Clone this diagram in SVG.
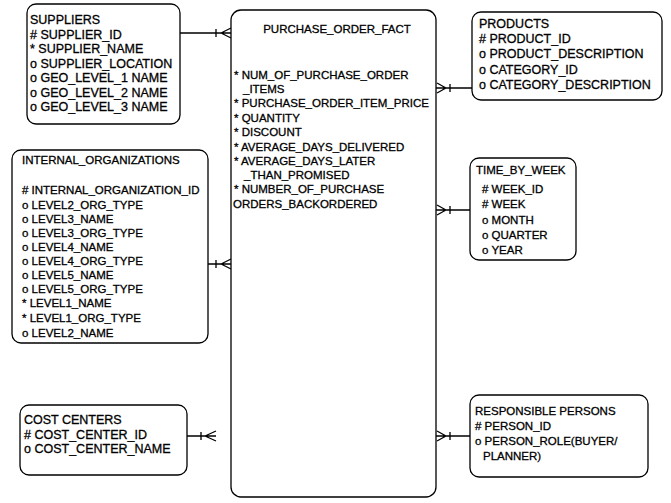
<svg xmlns="http://www.w3.org/2000/svg" width="671" height="503" viewBox="0 0 671 503">
<style>
.box{fill:#fff;stroke:#000;stroke-width:1.3}
text{font-family:"Liberation Sans",Arial,sans-serif;font-size:11.5px;fill:#000;stroke:#000;stroke-width:0.3}
.big text{font-size:12.5px}
.ln{fill:none;stroke:#000;stroke-width:1.3}
</style>
<rect width="671" height="503" fill="#fff"/>
<g id="connectors">
  <path class="ln" d="M180 33H231M216 29V37M221 33L231 28M221 33L231 38"/>
  <path class="ln" d="M208 264H231M216 260V268M221 264L231 259M221 264L231 269"/>
  <path class="ln" d="M187 436H216M201 432V440M205 436L216 431M205 436L216 441"/>
  <path class="ln" d="M436 88H472M446 88L437 83M446 88L437 93M450 84V92"/>
  <path class="ln" d="M436 210H470M446 210L437 205M446 210L437 215M450 206V214"/>
  <path class="ln" d="M436 436H470M446 436L437 431M446 436L437 441M450 432V440"/>
</g>
<g id="suppliers" class="big">
  <rect class="box" x="27" y="4" width="153" height="120" rx="9"/>
  <text x="30" y="24">SUPPLIERS</text>
  <text x="30" y="38.5"># SUPPLIER_ID</text>
  <text x="30" y="53">* SUPPLIER_NAME</text>
  <text x="30" y="67.5">o SUPPLIER_LOCATION</text>
  <text x="30" y="82">o GEO_LEVEL_1 NAME</text>
  <text x="30" y="96.5">o GEO_LEVEL_2 NAME</text>
  <text x="30" y="111">o GEO_LEVEL_3 NAME</text>
</g>
<g id="purchase_order_fact">
  <rect class="box" x="231" y="10" width="205" height="487" rx="10"/>
  <text x="337" y="33" text-anchor="middle">PURCHASE_ORDER_FACT</text>
  <text x="234" y="79">* NUM_OF_PURCHASE_ORDER</text>
  <text x="243" y="93">_ITEMS</text>
  <text x="234" y="107">* PURCHASE_ORDER_ITEM_PRICE</text>
  <text x="234" y="122">* QUANTITY</text>
  <text x="234" y="136">* DISCOUNT</text>
  <text x="234" y="151">* AVERAGE_DAYS_DELIVERED</text>
  <text x="234" y="165">* AVERAGE_DAYS_LATER</text>
  <text x="244" y="179">_THAN_PROMISED</text>
  <text x="234" y="193">* NUMBER_OF_PURCHASE</text>
  <text x="233" y="208">ORDERS_BACKORDERED</text>
</g>
<g id="products" class="big">
  <rect class="box" x="472" y="12" width="190" height="88" rx="9"/>
  <text x="479" y="28">PRODUCTS</text>
  <text x="479" y="43"># PRODUCT_ID</text>
  <text x="479" y="58">o PRODUCT_DESCRIPTION</text>
  <text x="479" y="74">o CATEGORY_ID</text>
  <text x="479" y="89">o CATEGORY_DESCRIPTION</text>
</g>
<g id="internal_organizations">
  <rect class="box" x="12" y="150" width="196" height="193" rx="9"/>
  <text x="22" y="164">INTERNAL_ORGANIZATIONS</text>
  <text x="22" y="194"># INTERNAL_ORGANIZATION_ID</text>
  <text x="22" y="209">o LEVEL2_ORG_TYPE</text>
  <text x="22" y="223">o LEVEL3_NAME</text>
  <text x="22" y="237">o LEVEL3_ORG_TYPE</text>
  <text x="22" y="251">o LEVEL4_NAME</text>
  <text x="22" y="265">o LEVEL4_ORG_TYPE</text>
  <text x="22" y="279">o LEVEL5_NAME</text>
  <text x="22" y="293">o LEVEL5_ORG_TYPE</text>
  <text x="22" y="307">* LEVEL1_NAME</text>
  <text x="22" y="322">* LEVEL1_ORG_TYPE</text>
  <text x="22" y="337">o LEVEL2_NAME</text>
</g>
<g id="time_by_week">
  <rect class="box" x="470" y="158" width="106" height="102" rx="9"/>
  <text x="476" y="174">TIME_BY_WEEK</text>
  <text x="482" y="193"># WEEK_ID</text>
  <text x="482" y="208"># WEEK</text>
  <text x="482" y="224">o MONTH</text>
  <text x="482" y="239">o QUARTER</text>
  <text x="482" y="254">o YEAR</text>
</g>
<g id="cost_centers" class="big">
  <rect class="box" x="20" y="405" width="167" height="70" rx="9"/>
  <text x="24" y="424">COST CENTERS</text>
  <text x="24" y="439"># COST_CENTER_ID</text>
  <text x="24" y="453">o COST_CENTER_NAME</text>
</g>
<g id="responsible_persons">
  <rect class="box" x="470" y="395" width="178" height="82" rx="9"/>
  <text x="475" y="415">RESPONSIBLE PERSONS</text>
  <text x="475" y="430"># PERSON_ID</text>
  <text x="475" y="445">o PERSON_ROLE(BUYER/</text>
  <text x="483" y="460">PLANNER)</text>
</g>
</svg>
